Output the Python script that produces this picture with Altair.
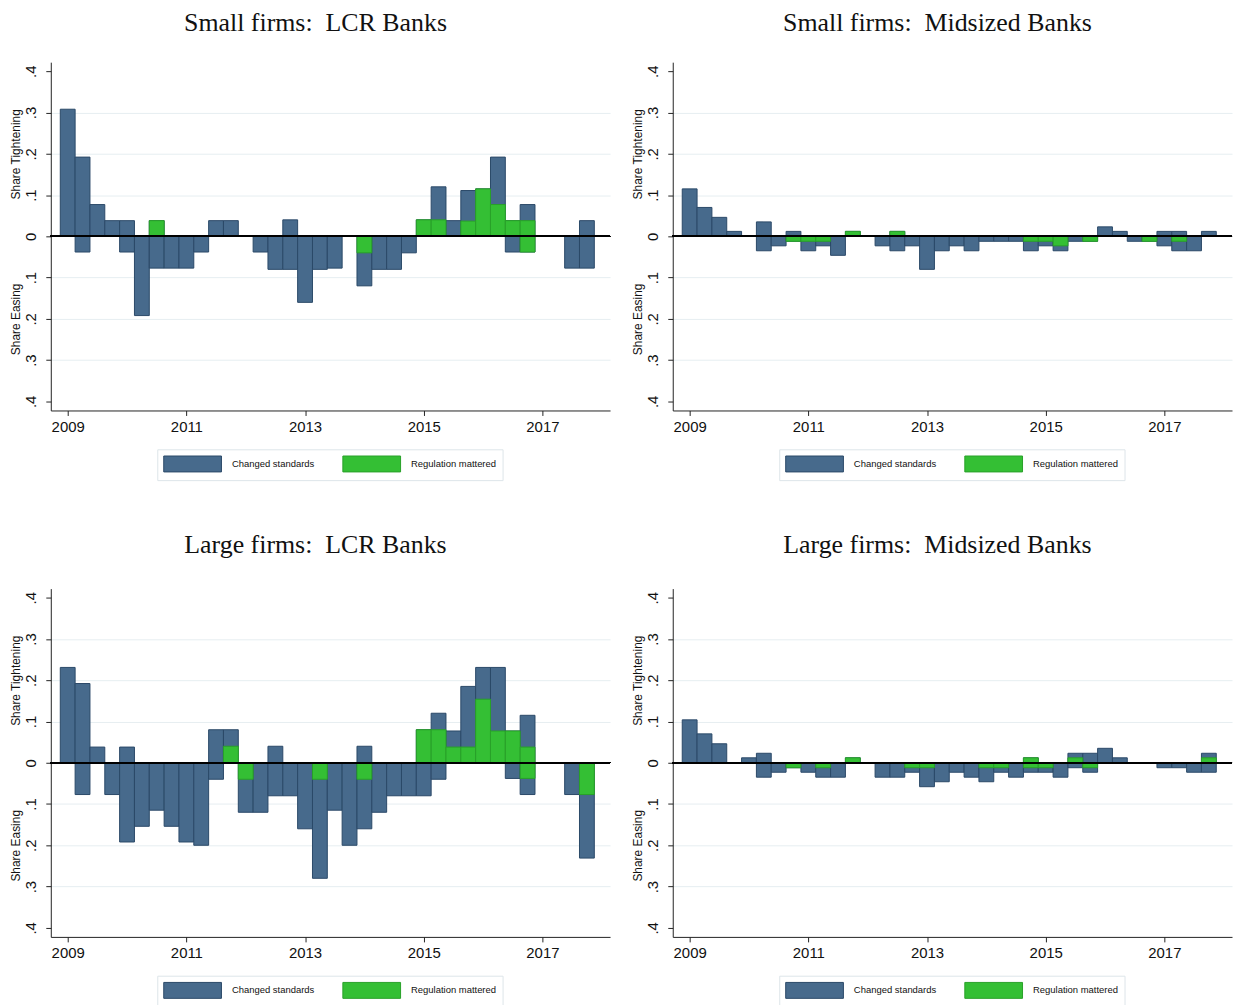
import altair as alt
import pandas as pd

# ---------------- data ----------------
quarters = [2009 + 0.25 * i for i in range(36)]  # 2009Q1 ... 2017Q4

series_names = ["Changed standards", "Regulation mattered"]

panel_titles = [
    "Small firms:\u00a0 LCR Banks",
    "Small firms:\u00a0 Midsized Banks",
    "Large firms:\u00a0 LCR Banks",
    "Large firms:\u00a0 Midsized Banks",
]

# Share tightening / share easing (easing shown below zero), and the part where regulation mattered
small_lcr_tight = [.308, .192, .077, .038, .038, 0, .038, 0, 0, 0, .038, .038, 0, 0, 0, .04, 0, 0,
                   0, 0, 0, 0, 0, 0, .04, .12, .038, .111, .115, .192, .038, .077, 0, 0, 0, .038]
small_lcr_ease = [0, .038, 0, 0, .038, .192, .077, .077, .077, .038, 0, 0, 0, .038, .08, .08, .16, .08,
                  .077, 0, .12, .08, .08, .04, 0, 0, 0, 0, 0, 0, .038, .038, 0, 0, .077, .077]
small_lcr_reg_tight = [0, 0, 0, 0, 0, 0, .038, 0, 0, 0, 0, 0, 0, 0, 0, 0, 0, 0,
                       0, 0, 0, 0, 0, 0, .04, .04, 0, .037, .115, .077, .038, .038, 0, 0, 0, 0]
small_lcr_reg_ease = [0, 0, 0, 0, 0, 0, 0, 0, 0, 0, 0, 0, 0, 0, 0, 0, 0, 0,
                      0, 0, .04, 0, 0, 0, 0, 0, 0, 0, 0, 0, 0, .038, 0, 0, 0, 0]

small_mid_tight = [.115, .07, .046, .012, 0, .035, 0, .012, 0, 0, 0, .012, 0, 0, .012, 0, 0, 0,
                   0, 0, 0, 0, 0, 0, 0, 0, 0, 0, .023, .012, 0, 0, .012, .012, 0, .012]
small_mid_ease = [0, 0, 0, 0, 0, .035, .023, .012, .035, .023, .046, 0, 0, .023, .035, .023, .08, .035,
                  .023, .035, .012, .012, .012, .035, .023, .035, .012, .012, 0, 0, .012, .012, .023, .035, .035, 0]
small_mid_reg_tight = [0, 0, 0, 0, 0, 0, 0, 0, 0, 0, 0, .012, 0, 0, .012, 0, 0, 0,
                       0, 0, 0, 0, 0, 0, 0, 0, 0, 0, 0, 0, 0, 0, 0, 0, 0, 0]
small_mid_reg_ease = [0, 0, 0, 0, 0, 0, 0, .012, .012, .012, 0, 0, 0, 0, 0, 0, 0, 0,
                      0, 0, 0, 0, 0, .012, .012, .023, 0, .012, 0, 0, 0, .012, 0, .012, 0, 0]

large_lcr_tight = [.231, .192, .038, 0, .038, 0, 0, 0, 0, 0, .08, .08, 0, 0, .04, 0, 0, 0,
                   0, 0, .04, 0, 0, 0, .08, .12, .077, .185, .231, .231, .077, .115, 0, 0, 0, 0]
large_lcr_ease = [0, .077, 0, .077, .192, .154, .115, .154, .192, .2, .04, 0, .12, .12, .08, .08, .16, .28,
                  .115, .2, .16, .12, .08, .08, .08, .04, 0, 0, 0, 0, .038, .077, 0, 0, .077, .231]
large_lcr_reg_tight = [0, 0, 0, 0, 0, 0, 0, 0, 0, 0, 0, .04, 0, 0, 0, 0, 0, 0,
                       0, 0, 0, 0, 0, 0, .08, .08, .038, .038, .154, .077, .077, .038, 0, 0, 0, 0]
large_lcr_reg_ease = [0, 0, 0, 0, 0, 0, 0, 0, 0, 0, 0, 0, .04, 0, 0, 0, 0, .04,
                      0, 0, .04, 0, 0, 0, 0, 0, 0, 0, 0, 0, 0, .038, 0, 0, 0, .077]

large_mid_tight = [.104, .07, .046, 0, .012, .023, 0, 0, 0, 0, 0, .012, 0, 0, 0, 0, 0, 0,
                   0, 0, 0, 0, 0, .012, 0, 0, .023, .023, .035, .012, 0, 0, 0, 0, 0, .023]
large_mid_ease = [0, 0, 0, 0, 0, .035, .023, .012, .023, .035, .035, 0, 0, .035, .035, .023, .058, .046,
                  .023, .035, .046, .023, .035, .023, .023, .035, .012, .023, 0, 0, 0, 0, .012, .012, .023, .023]
large_mid_reg_tight = [0, 0, 0, 0, 0, 0, 0, 0, 0, 0, 0, .012, 0, 0, 0, 0, 0, 0,
                       0, 0, 0, 0, 0, .012, 0, 0, .012, 0, 0, 0, 0, 0, 0, 0, 0, .012]
large_mid_reg_ease = [0, 0, 0, 0, 0, 0, 0, .012, 0, .012, 0, 0, 0, 0, 0, .012, .012, 0,
                      0, 0, .012, .012, 0, .012, .012, 0, 0, .012, 0, 0, 0, 0, 0, 0, 0, 0]

panels_data = [
    (small_lcr_tight, small_lcr_ease, small_lcr_reg_tight, small_lcr_reg_ease),
    (small_mid_tight, small_mid_ease, small_mid_reg_tight, small_mid_reg_ease),
    (large_lcr_tight, large_lcr_ease, large_lcr_reg_tight, large_lcr_reg_ease),
    (large_mid_tight, large_mid_ease, large_mid_reg_tight, large_mid_reg_ease),
]

# ---------------- styling ----------------
BLUE, BLUE_EDGE = "#476a8c", "#2a4968"
GREEN, GREEN_EDGE = "#34bf34", "#28a028"
GRID = "#e6eef1"
W, H = 562, 350
YDOM = [-0.422, 0.422]
XDOM = [2008.715, 2018.14]
SANS = "Liberation Sans"
SERIF = "Liberation Serif"


def ypix(v):
    return H * (YDOM[1] - v) / (YDOM[1] - YDOM[0])


def long_frame(tight, ease, reg_tight, reg_ease):
    rows = []
    for name, up, down in [(series_names[0], tight, ease), (series_names[1], reg_tight, reg_ease)]:
        for t, u, d in zip(quarters, up, down):
            if u > 0:
                rows.append({"t": t, "series": name, "value": u})
            if d > 0:
                rows.append({"t": t, "series": name, "value": -d})
    return pd.DataFrame(rows)


# legend swatch: 16px tall, 58px wide (layout sees a 16px symbol)
legend = alt.Legend(
    orient="none", legendX=107, legendY=389, direction="horizontal", title=None,
    symbolType="M-1,-1H6.25V1H-1Z", symbolSize=256, symbolStrokeWidth=1,
    labelFont=SANS, labelFontSize=9.5, labelColor="#111", labelOffset=52,
    columnPadding=26, padding=6, strokeColor="#dde5e9", fillColor="white",
)

yvals = [-0.4, -0.3, -0.2, -0.1, 0, 0.1, 0.2, 0.3, 0.4]


def panel(title, data, title_offset):
    df = long_frame(*data)
    bars = alt.Chart(df).transform_calculate(
        x0="datum.t - 0.125", x1="datum.t + 0.125", zero="0"
    ).mark_rect(strokeWidth=1).encode(
        x=alt.X("x0:Q", scale=alt.Scale(domain=XDOM, nice=False, zero=False),
                axis=alt.Axis(values=[2009, 2011, 2013, 2015, 2017], format="d", title=None,
                              grid=False, labelFont=SANS, labelFontSize=15, labelColor="#111",
                              tickSize=5, labelPadding=4, domainColor="#222", tickColor="#222")),
        x2="x1:Q",
        y=alt.Y("value:Q", scale=alt.Scale(domain=YDOM, nice=False),
                axis=alt.Axis(values=yvals, orient="left", title="Share Tightening",
                              labelExpr="datum.value == 0 ? '0' : replace(format(abs(datum.value), '.1f'), '0.', '.')",
                              labelAngle=270, labelAlign="center", labelBaseline="middle",
                              labelFont=SANS, labelFontSize=15, labelColor="#111", labelPadding=15,
                              tickSize=5, domainColor="#222", tickColor="#222",
                              grid=True, gridWidth=1,
                              gridColor={"condition": {"test": "abs(datum.value) > 0.35 || datum.value == 0",
                                                       "value": "transparent"}, "value": GRID},
                              titleFont=SANS, titleFontSize=12, titleFontWeight="normal", titleColor="#111",
                              titleAngle=270, titleAlign="center", titleBaseline="middle",
                              titleX=-35, titleY=ypix(0.2))),
        y2="zero:Q",
        color=alt.Color("series:N", scale=alt.Scale(domain=series_names, range=[BLUE, GREEN]), legend=legend),
        stroke=alt.Stroke("series:N", scale=alt.Scale(domain=series_names, range=[BLUE_EDGE, GREEN_EDGE]),
                          legend=legend),
    )

    zero = alt.Chart(df).mark_rule(color="black", strokeWidth=1.3).encode(
        y=alt.YDatum(0, scale=alt.Scale(domain=YDOM, nice=False),
                     axis=alt.Axis(orient="left", title="Share Easing", labels=False, ticks=False,
                                   domain=False, grid=False,
                                   titleFont=SANS, titleFontSize=12, titleFontWeight="normal",
                                   titleColor="#111", titleAngle=270, titleAlign="center",
                                   titleBaseline="middle", titleX=-35, titleY=ypix(-0.2)))
    )

    return alt.layer(bars, zero).resolve_axis(y="independent").properties(
        width=W, height=H,
        title=alt.TitleParams(title, font=SERIF, fontSize=26, fontWeight="normal", color="#111",
                              anchor="middle", offset=title_offset, dx=-15),
    )


offsets = [26, 26, 31, 31]
charts = [panel(t, d, o) for t, d, o in zip(panel_titles, panels_data, offsets)]

row1 = alt.hconcat(charts[0], charts[1], spacing=20).resolve_scale(color="independent", stroke="independent")
row2 = alt.hconcat(charts[2], charts[3], spacing=20).resolve_scale(color="independent", stroke="independent")

chart = alt.vconcat(row1, row2, spacing=51).resolve_scale(
    color="independent", stroke="independent"
).properties(padding={"left": 1, "top": 0, "right": 0, "bottom": 0}).configure_view(stroke=None)

chart.save("out.html", embed_options={"renderer": "svg", "actions": False})
